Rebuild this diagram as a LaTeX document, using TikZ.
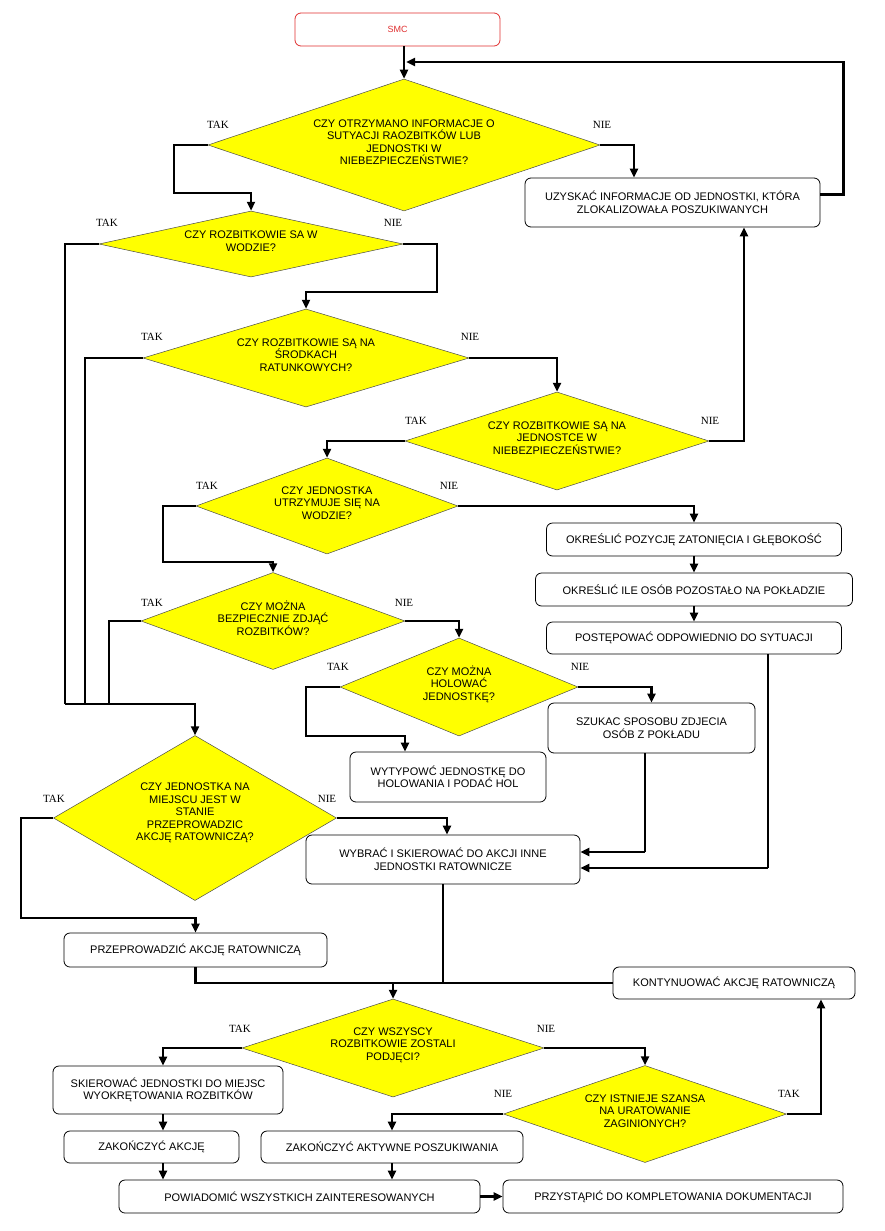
\documentclass[tikz,border=0pt]{standalone}
\usepackage{fontspec}
\setmainfont{Liberation Sans}
\newfontfamily\lblfont{Liberation Serif}
\usetikzlibrary{shapes.geometric,arrows.meta,calc}
\definecolor{smcred}{HTML}{E03030}
\definecolor{dyellow}{HTML}{FFFF00}
\begin{document}
\begin{tikzpicture}[x=1pt,y=-1pt,
  box/.style={draw, rounded corners=6pt, line width=0.8pt, align=center, inner sep=0pt, font=\fontsize{11}{12.5}\selectfont},
  dia/.style={diamond, fill=dyellow, draw=black!70, line width=0.5pt, inner sep=0pt},
  dtxt/.style={align=center, font=\fontsize{11}{12.5}\selectfont, inner sep=0pt},
  lbl/.style={font=\lblfont\fontsize{11}{12}\selectfont, inner sep=0pt},
  con/.style={line width=2.5pt},
  thincon/.style={line width=1.3pt},
  arr/.style={con, -{Triangle[length=9pt,width=8pt]}}]
\fill[white] (0,0) rectangle (885,1231);
\useasboundingbox (0,0) rectangle (885,1231);

% ---------- boxes ----------
\node[box, draw=smcred, text=smcred, minimum width=205, minimum height=33, font=\fontsize{9}{10}\selectfont] (smc) at (397.5,29.5) {SMC};
\node[box, minimum width=295, minimum height=49] (u) at (672.5,202.5) {UZYSKAĆ INFORMACJE OD JEDNOSTKI, KTÓRA\\ZLOKALIZOWAŁA POSZUKIWANYCH};
\node[box, minimum width=295, minimum height=33] (a1) at (694,539.5) {OKREŚLIĆ POZYCJĘ ZATONIĘCIA I GŁĘBOKOŚĆ};
\node[box, minimum width=317, minimum height=33] (a2) at (694,589.5) {OKREŚLIĆ ILE OSÓB POZOSTAŁO NA POKŁADZIE};
\node[box, minimum width=295, minimum height=32] (a3) at (694,638) {POSTĘPOWAĆ ODPOWIEDNIO DO SYTUACJI};
\node[box, minimum width=207, minimum height=50] (s) at (651.5,728) {SZUKAC SPOSOBU ZDJECIA\\OSÓB Z POKŁADU};
\node[box, minimum width=196, minimum height=50] (wy) at (448,777) {WYTYPOWĆ JEDNOSTKĘ DO\\HOLOWANIA I PODAĆ HOL};
\node[box, minimum width=274, minimum height=49] (w) at (443,859.5) {WYBRAĆ I SKIEROWAĆ DO AKCJI INNE\\JEDNOSTKI RATOWNICZE};
\node[box, minimum width=263, minimum height=34] (p) at (195.5,950) {PRZEPROWADZIĆ AKCJĘ RATOWNICZĄ};
\node[box, minimum width=242, minimum height=32] (k) at (734,983) {KONTYNUOWAĆ AKCJĘ RATOWNICZĄ};
\node[box, minimum width=230, minimum height=48] (sk) at (168,1090) {SKIEROWAĆ JEDNOSTKI DO MIEJSC\\WYOKRĘTOWANIA ROZBITKÓW};
\node[box, minimum width=175, minimum height=32] (zk) at (151.5,1147) {ZAKOŃCZYĆ AKCJĘ};
\node[box, minimum width=262, minimum height=32] (za) at (392,1147) {ZAKOŃCZYĆ AKTYWNE POSZUKIWANIA};
\node[box, minimum width=361, minimum height=33] (pw) at (299.5,1196.5) {POWIADOMIĆ WSZYSTKICH ZAINTERESOWANYCH};
\node[box, minimum width=340, minimum height=33] (pd) at (673,1196.5) {PRZYSTĄPIĆ DO KOMPLETOWANIA DOKUMENTACJI};

% ---------- decisions ----------
\node[dia, minimum width=392, minimum height=132] (d1) at (404,145) {};
\node[dtxt] (d1t) at ([yshift=3pt]d1.center) {CZY OTRZYMANO INFORMACJE O\\SUTYACJI RAOZBITKÓW LUB\\JEDNOSTKI W\\NIEBEZPIECZEŃSTWIE?};
\node[dia, minimum width=304, minimum height=66] (d2) at (251,244) {};
\node[dtxt] (d2t) at ([yshift=3pt]d2.center) {CZY ROZBITKOWIE SA W\\WODZIE?};
\node[dia, minimum width=326, minimum height=98] (d3) at (306,358) {};
\node[dtxt] (d3t) at ([yshift=3pt]d3.center) {CZY ROZBITKOWIE SĄ NA\\ŚRODKACH\\RATUNKOWYCH?};
\node[dia, minimum width=304, minimum height=98] (d4) at (557,441) {};
\node[dtxt] (d4t) at ([yshift=3pt]d4.center) {CZY ROZBITKOWIE SĄ NA\\JEDNOSTCE W\\NIEBEZPIECZEŃSTWIE?};
\node[dia, minimum width=262, minimum height=96] (d5) at (327,506) {};
\node[dtxt] (d5t) at ([yshift=3pt]d5.center) {CZY JEDNOSTKA\\UTRZYMUJE SIĘ NA\\WODZIE?};
\node[dia, minimum width=264, minimum height=97] (d6) at (273,621) {};
\node[dtxt] (d6t) at ([yshift=3pt]d6.center) {CZY MOŻNA\\BEZPIECZNIE ZDJĄĆ\\ROZBITKÓW?};
\node[dia, minimum width=238, minimum height=98] (d7) at (459,687) {};
\node[dtxt] (d7t) at ([yshift=3pt]d7.center) {CZY MOŻNA\\HOLOWAĆ\\JEDNOSTKĘ?};
\node[dia, minimum width=283, minimum height=165] (d8) at (195,818) {};
\node[dtxt] (d8t) at ([yshift=5pt]d8.center) {CZY JEDNOSTKA NA\\MIEJSCU JEST W\\STANIE\\PRZEPROWADZIC\\AKCJĘ RATOWNICZĄ?};
\node[dia, minimum width=302, minimum height=98] (d9) at (393,1048) {};
\node[dtxt] (d9t) at ([yshift=3pt]d9.center) {CZY WSZYSCY\\ROZBITKOWIE ZOSTALI\\PODJĘCI?};
\node[dia, minimum width=283, minimum height=97] (d10) at (645,1114) {};
\node[dtxt] (d10t) at ([yshift=3pt]d10.center) {CZY ISTNIEJE SZANSA\\NA URATOWANIE\\ZAGINIONYCH?};

% ---------- labels ----------
\node[lbl] (l1t) at (218,125) {TAK};
\node[lbl] (l1n) at (602,125) {NIE};
\node[lbl] (l2t) at (107,223) {TAK};
\node[lbl] (l2n) at (393,223) {NIE};
\node[lbl] (l3t) at (152,337) {TAK};
\node[lbl] (l3n) at (470,337) {NIE};
\node[lbl] (l4t) at (416,421) {TAK};
\node[lbl] (l4n) at (710,421) {NIE};
\node[lbl] (l5t) at (207,486) {TAK};
\node[lbl] (l5n) at (449,486) {NIE};
\node[lbl] (l6t) at (152,603) {TAK};
\node[lbl] (l6n) at (404,603) {NIE};
\node[lbl] (l7t) at (338,667) {TAK};
\node[lbl] (l7n) at (580,667) {NIE};
\node[lbl] (l8t) at (54,799) {TAK};
\node[lbl] (l8n) at (327,799) {NIE};
\node[lbl] (l9t) at (240,1029) {TAK};
\node[lbl] (l9n) at (546,1029) {NIE};
\node[lbl] (l10n) at (503,1094) {NIE};
\node[lbl] (l10t) at (789,1094) {TAK};

% ---------- coordinates ----------
\coordinate (loopin) at (406,62);
\coordinate (b1) at (174,193);
\coordinate (b2) at (437,292);
\coordinate (b3) at (163,562);
\coordinate (b4) at (306,736);
\coordinate (b5) at (21,918);
\coordinate (m1) at (65,704);
\coordinate (m2) at (85,704);
\coordinate (m3) at (109,704);
\coordinate (r1) at (768,868);
\coordinate (r2) at (645,852);
\coordinate (col) at (163,0);

% ---------- connectors ----------
\draw[arr] (d1.north |- smc.south) -- (d1.north);
\draw[arr] ([yshift=8pt]u.east) -- ++(23,0) |- (loopin);
\draw[arr] (d1.west) -| (b1) -| (d2.north);
\draw[arr] (d1.east) -| ([xshift=-38.5pt]u.north);
\draw[con] (d2.west) -| (m1);
\draw[con] (d3.west) -| (m2);
\draw[con] (d6.west) -| (m3);
\draw[arr] (m1) -| (d8.north);
\draw[arr] (d2.east) -| (b2) -| (d3.north);
\draw[arr] (d3.east) -| (d4.north);
\draw[arr] (d4.east) -| ([xshift=71.5pt]u.south);
\draw[arr] (d4.west) -| (d5.north);
\draw[arr] (d5.west) -| (b3) -| (d6.north);
\draw[arr] (d5.east) -| (a1.north);
\draw[arr] (a1.south) -- (a2.north);
\draw[arr] (a2.south) -- (a3.north);
\draw[thincon] ([xshift=74pt]a3.south) -- (r1);
\draw[arr] (r1) -- (r1 -| w.east);
\draw[con] ([xshift=-6.5pt]s.south) -- (r2);
\draw[arr] (r2) -- (r2 -| w.east);
\draw[arr] (d6.east) -| (d7.north);
\draw[arr] (d7.east) -| (s.north);
\draw[arr] (d7.west) -| (b4) -| ([xshift=-43pt]wy.north);
\draw[arr] (d8.west) -| (b5) -| (p.north);
\draw[arr] (d8.east) -| ([xshift=4pt]w.north);
\draw[con] (p.south) |- (k.west);
\draw[thincon] (w.south) -- (w.south |- k.west);
\draw[arr] (d9.north |- k.west) -- (d9.north);
\draw[arr] (d9.west) -| ([xshift=-5pt]sk.north);
\draw[arr] (d9.east) -| (d10.north);
\draw[arr] (d10.east) -| ([xshift=87pt]k.south);
\draw[arr] (d10.west) -| (za.north);
\draw[arr] (sk.south -| col) -- (zk.north -| col);
\draw[arr] (zk.south -| col) -- (pw.north -| col);
\draw[arr] (za.south) -- (za.south |- pw.north);
\draw[arr] (pw.east) -- (pd.west);
\end{tikzpicture}
\end{document}
